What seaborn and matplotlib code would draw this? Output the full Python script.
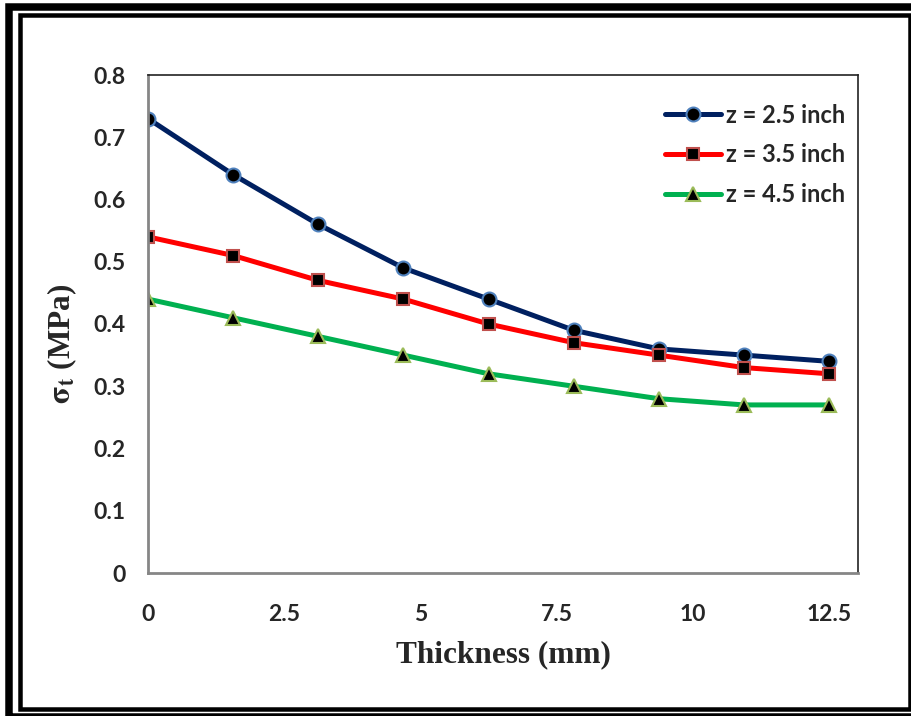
import pandas as pd
import seaborn as sns
import matplotlib.pyplot as plt
from matplotlib.patches import Rectangle

# data
thickness = [0, 1.5625, 3.125, 4.6875, 6.25, 7.8125, 9.375, 10.9375, 12.5]
z_25 = [0.73, 0.64, 0.56, 0.49, 0.44, 0.39, 0.36, 0.35, 0.34]
z_35 = [0.54, 0.51, 0.47, 0.44, 0.40, 0.37, 0.35, 0.33, 0.32]
z_45 = [0.44, 0.41, 0.38, 0.35, 0.32, 0.30, 0.28, 0.27, 0.27]
labels = ["z = 2.5 inch", "z = 3.5 inch", "z = 4.5 inch"]
x_ticks = [0, 2.5, 5, 7.5, 10, 12.5]
x_tick_labels = ["0", "2.5", "5", "7.5", "10", "12.5"]
y_ticks = [0, 0.1, 0.2, 0.3, 0.4, 0.5, 0.6, 0.7, 0.8]
y_tick_labels = ["0", "0.1", "0.2", "0.3", "0.4", "0.5", "0.6", "0.7", "0.8"]

sns.set_style("white")
plt.rcParams['font.family'] = ['Lato', 'DejaVu Sans']
plt.rcParams['mathtext.fontset'] = 'stix'

W, H = 911, 716
fig = plt.figure(figsize=(W / 100, H / 100), dpi=100)
ax = fig.add_axes([148 / W, 1 - 573 / H, (858 - 148) / W, (573 - 75) / H])

df = pd.DataFrame({"x": thickness, labels[0]: z_25, labels[1]: z_35, labels[2]: z_45})

styles = [
    ("#002060", "o", "#4F81BD", 10),
    ("#FF0000", "s", "#C0504D", 9),
    ("#00B050", "^", "#9BBB59", 10),
]
for label, (color, marker, edge, ms) in zip(labels, styles):
    sns.lineplot(data=df, x="x", y=label, ax=ax, label=label, color=color,
                 linewidth=3.6, marker=marker, markersize=ms,
                 markerfacecolor="black", markeredgecolor=edge, markeredgewidth=1.5)

ax.set_xlim(0, 13.03)
ax.set_ylim(0, 0.8)
ax.set_xticks(x_ticks)
ax.set_xticklabels(x_tick_labels)
ax.set_yticks(y_ticks)
ax.set_yticklabels(y_tick_labels)
ax.tick_params(axis="both", length=6, width=1.5, color="#868686", direction="out",
               labelsize=16.5, pad=10)
ax.tick_params(axis="x", pad=16)
for lbl in ax.get_xticklabels() + ax.get_yticklabels():
    lbl.set_fontweight("bold")

for side in ["left", "bottom"]:
    ax.spines[side].set_color("#868686")
    ax.spines[side].set_linewidth(2)
for side in ["top", "right"]:
    ax.spines[side].set_color("#222222")
    ax.spines[side].set_linewidth(1.2)

ax.set_xlabel("Thickness (mm)", fontsize=22.5, fontweight="bold",
              family="Liberation Serif", labelpad=11)
ax.set_ylabel(r"$\mathbf{\sigma_t}$ (MPa)", fontsize=22.5, fontweight="bold",
              family="Liberation Serif")
ax.yaxis.set_label_coords(-0.097, 0.46)

leg = ax.legend(loc="upper right", bbox_to_anchor=(1.012, 0.985), frameon=False,
                handlelength=2.4, handletextpad=0.2, labelspacing=0.7,
                prop={"family": "Lato", "weight": "bold", "size": 17})

# double frame around the figure
def px_rect(x0, y0, x1, y1, lw_px):
    return Rectangle((x0 / W, 1 - y1 / H), (x1 - x0) / W, (y1 - y0) / H,
                     transform=fig.transFigure, fill=False, edgecolor="black",
                     linewidth=lw_px * 0.72, clip_on=False)

fig.patches.append(px_rect(9, 6.5, 916, 716.5, 7.5))
fig.patches.append(px_rect(19.5, 15, 909.5, 709, 4.5))

fig.savefig("out.png", dpi=100)
